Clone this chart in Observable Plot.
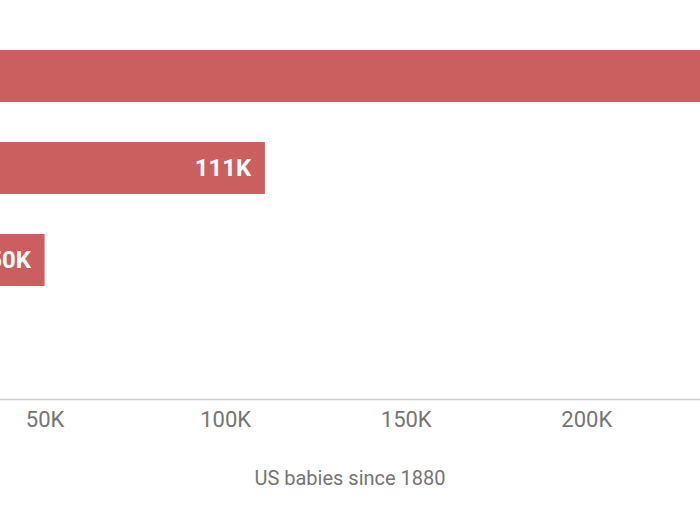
<!DOCTYPE html>
<html>
<head>
<meta charset="utf-8">
<script src="https://cdn.jsdelivr.net/npm/d3@7"></script>
<script src="https://cdn.jsdelivr.net/npm/@observablehq/plot@0.6"></script>
<style>
  html, body { margin: 0; padding: 0; background: #fff; }
  #wrap { width: 700px; height: 525px; overflow: hidden; position: relative; }
  #caption { position: absolute; left: 0; width: 700px; top: 466px; text-align: center;
    font-family: Roboto, sans-serif; font-size: 20px; line-height: 24px; color: #757575; }
</style>
</head>
<body>
<div id="wrap">
  <div id="chart"></div>
  <div id="caption">US babies since 1880</div>
</div>
<script>
// Categories (their names sit off the left edge of the reference crop)
const categories = ["Bar 1", "Bar 2", "Bar 3"];
// US babies since 1880 (first bar runs past the right edge)
const babies = [260000, 111000, 50000];
// Tick values and labels
const tickValues = [50000, 100000, 150000, 200000];
const tickLabels = ["50K", "100K", "150K", "200K"];

const data = categories.map((c, i) => ({name: c, value: babies[i], label: Math.round(babies[i] / 1000) + "K"}));

const chart = Plot.plot({
  width: 700,
  height: 445,
  marginTop: 0,
  marginLeft: -136,
  marginRight: -103,
  marginBottom: 46,
  style: {fontFamily: "Roboto, sans-serif", fontSize: "22px", color: "#757575", background: "transparent"},
  x: {domain: [0, 260000]},
  y: {domain: categories, range: [29, 307], paddingInner: 0.44, paddingOuter: 0.22},
  marks: [
    Plot.barX(data, {x: "value", y: "name", fill: "#cb5f5f"}),
    Plot.text(data, {x: "value", y: "name", text: "label", textAnchor: "end", dx: -14,
      fill: "white", fontSize: 24, fontWeight: "bold"}),
    Plot.frame({anchor: "bottom", stroke: "#cccccc", strokeWidth: 1.5}),
    Plot.axisX({ticks: tickValues, tickFormat: (d) => tickLabels[tickValues.indexOf(d)],
      tickSize: 0, tickPadding: 12, label: null, fontSize: 22}),
    Plot.axisY({ticks: [], label: null, tickSize: 0})
  ]
});
document.getElementById("chart").appendChild(chart);
</script>
</body>
</html>
